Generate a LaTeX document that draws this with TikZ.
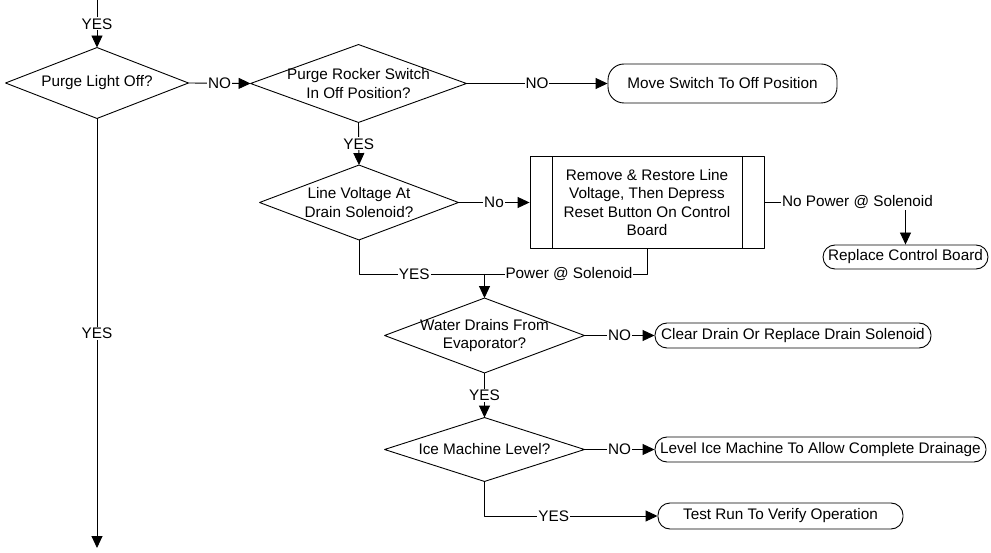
\documentclass[tikz,border=0pt]{standalone}
\usepackage{fontspec}
\setmainfont{Liberation Sans}
\usetikzlibrary{arrows.meta}

\begin{document}
\begin{tikzpicture}[x=1pt, y=-1pt, line width=0.9pt, line join=round,
  every node/.style={font=\fontsize{15.3}{18.3}\selectfont},
  ask/.style 2 args={minimum width=#1, minimum height=#2, inner sep=0pt, align=center},
  term/.style 2 args={draw, rounded corners=12pt, minimum width=#1, minimum height=#2, inner sep=0pt},
  proc/.style 2 args={draw, minimum width=#1, minimum height=#2, inner sep=0pt, align=center},
  lbl/.style={fill=white, inner sep=1pt},
  flow/.style={-{Triangle[length=12pt,width=11pt]}}]

  %% ════ 判断框（菱形，线在下面统一补画）════
  \node[ask={182}{70}] (d1) at (97,83) {Purge Light Off?};
  \node[ask={215}{77}] (d2) at (358.5,83.5) {Purge Rocker Switch\\In Off Position?};
  \node[ask={198}{74}] (d3) at (359,202.5) {Line Voltage At\\Drain Solenoid?};
  \node[ask={199}{74}] (d4) at (484.5,335.5) {Water Drains From\\Evaporator?};
  \node[ask={199}{63}] (d5) at (484.5,449.5) {Ice Machine Level?};
  \foreach \d in {d1,d2,d3,d4,d5}
    \draw (\d.west) -- (\d.north) -- (\d.east) -- (\d.south) -- cycle;

  %% ════ 处理框 ════
  \node[proc={234}{92}] (reset) at (647,202.5) {Remove \& Restore Line\\Voltage, Then Depress\\Reset Button On Control\\Board};
  \draw ([xshift=23pt]reset.north west) -- ([xshift=23pt]reset.south west);
  \draw ([xshift=-22pt]reset.north east) -- ([xshift=-22pt]reset.south east);

  %% ════ 终止框 ════
  \node[term={229}{39}, rounded corners=16pt] (move) at (722.5,83.5) {Move Switch To Off Position};
  \node[term={165}{24}] (replace) at (905.5,257) {Replace Control Board};
  \node[term={276}{25}] (clear) at (793,335.5) {Clear Drain Or Replace Drain Solenoid};
  \node[term={331}{25}] (level) at (820.5,449.5) {Level Ice Machine To Allow Complete Drainage};
  \node[term={245}{26}] (test) at (780.5,516) {Test Run To Verify Operation};

  %% ════ 连线 ════
  \coordinate (top) at (97,0);
  \coordinate (bot) at (97,548);
  \coordinate (mrg) at (484.5,274);

  \draw[flow] (top) -- node[lbl] (l0) {YES} (d1.north);
  \draw[flow] (d1.east) -- node[lbl] (l1) {NO} (d2.west);
  \draw[flow] (d2.east) -- node[lbl] (l2) {NO} (move.west);
  \draw[flow] (d2.south) -- node[lbl] (l3) {YES} (d3.north);
  \draw[flow] (d3.east) -- node[lbl] (l4) {No} (reset.west);
  \draw[flow] (reset.east) -| node[lbl, pos=0.33] (l5) {No Power @ Solenoid} (replace.north);
  \draw (d3.south) |- node[lbl, pos=0.72] (l6) {YES} (mrg);
  \draw (reset.south) |- node[lbl, pos=0.74] (l7) {Power @ Solenoid} (mrg);
  \draw[flow] (mrg) -- (d4.north);
  \draw[flow] (d4.east) -- node[lbl] (l8) {NO} (clear.west);
  \draw[flow] (d4.south) -- node[lbl] (l9) {YES} (d5.north);
  \draw[flow] (d5.east) -- node[lbl] (l10) {NO} (level.west);
  \draw[flow] (d5.south) |- node[lbl, pos=0.7] (l11) {YES} (test.west);
  \draw[flow] (d1.south) -- node[lbl] (l12) {YES} (bot);

  % 钉死画布
  \pgfresetboundingbox
  \path[use as bounding box] (0,0) rectangle (991,553);
\end{tikzpicture}
\end{document}
